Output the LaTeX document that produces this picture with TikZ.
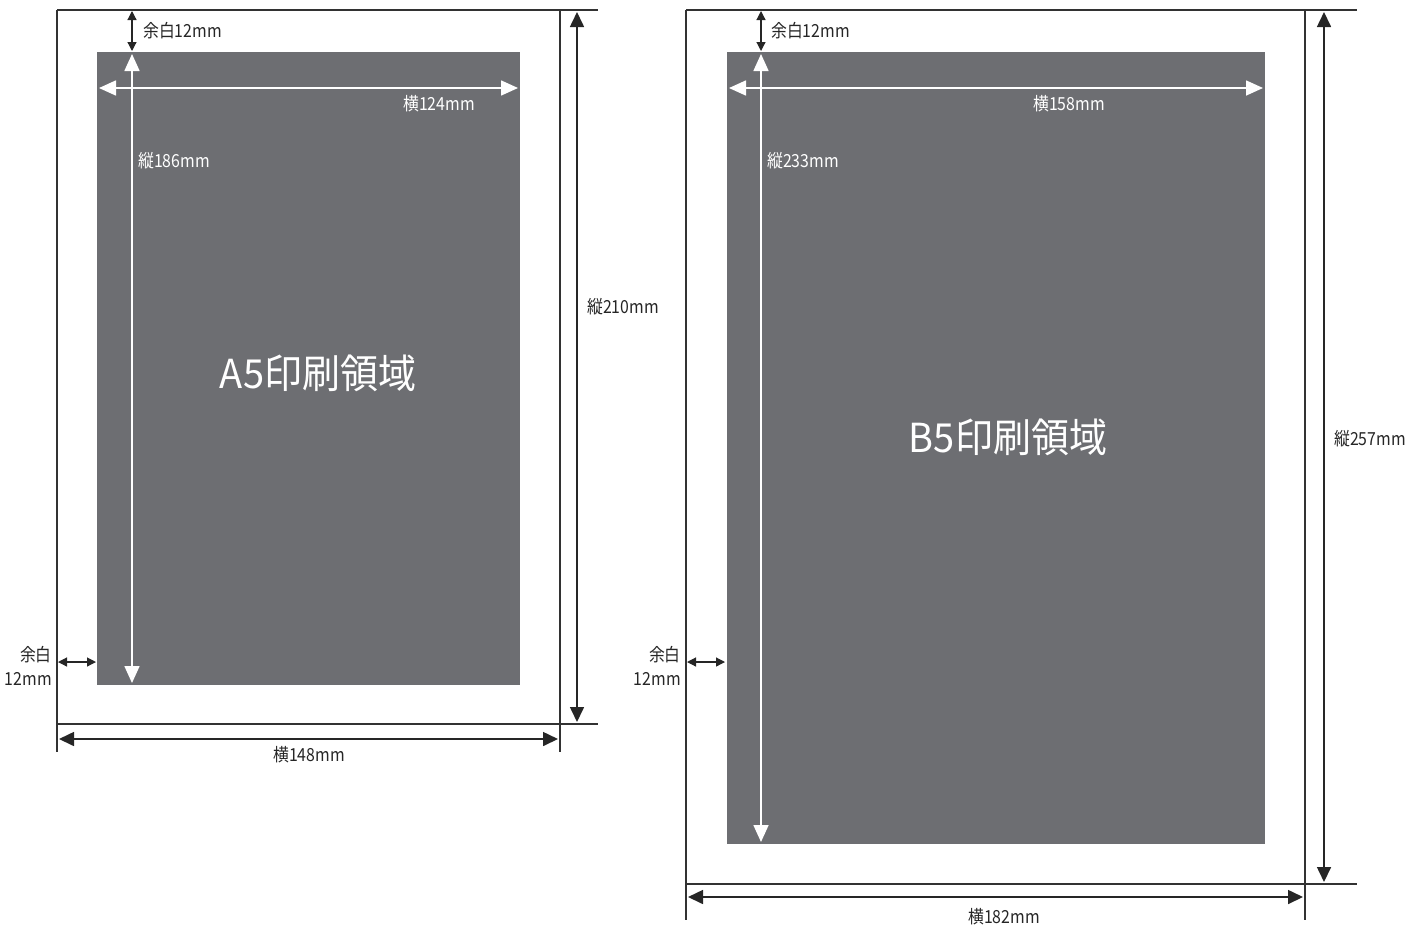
\documentclass[tikz,border=0pt]{standalone}
\usepackage{fontspec}
\setmainfont{Noto Sans CJK JP}
\newfontfamily\condjp[FakeStretch=0.88]{Noto Sans CJK JP}
\newfontfamily\condtitle[FakeStretch=0.95]{Noto Sans CJK JP}
\usetikzlibrary{arrows.meta}
\definecolor{areagray}{RGB}{109,110,114}
\definecolor{linegray}{RGB}{50,50,50}
\tikzset{
  pageline/.style={draw=linegray,line width=1.1pt},
  bigdim/.style={draw=black!85,line width=1.6pt,{Triangle[length=15pt,width=14pt]}-{Triangle[length=15pt,width=14pt]}},
  margdim/.style={draw=black!85,line width=1.2pt,{Triangle[length=9pt,width=9pt]}-{Triangle[length=9pt,width=9pt]}},
  whitedim/.style={draw=white,line width=1.6pt,{Triangle[length=17pt,width=15pt]}-{Triangle[length=17pt,width=15pt]}},
  area/.style={fill=areagray,draw=none},
  lbl/.style={font=\condjp\fontsize{18}{20}\selectfont,inner sep=0pt,text=black!85},
  wlbl/.style={font=\condjp\fontsize{18}{20}\selectfont,inner sep=0pt,text=white},
  title/.style={font=\condtitle\fontsize{40}{44}\selectfont,inner sep=0pt,text=white}
}
\begin{document}
\begin{tikzpicture}[x=1pt,y=-1pt]
\useasboundingbox (0,0) rectangle (1407,927);
% ---------- A5 ----------
\fill[area] (97,52) rectangle (520,685);
\draw[pageline] (57,10) -- (598,10);
\draw[pageline] (57,724) -- (598,724);
\draw[pageline] (57,10) -- (57,752);
\draw[pageline] (560,10) -- (560,752);
\coordinate (a5tt) at (132,11);
\coordinate (a5tb) at (132,51);
\draw[margdim] (a5tt) -- (a5tb);
\node[lbl,anchor=west] (a5tm) at (143,31) {余白12mm};
\coordinate (a5wt) at (132,54);
\coordinate (a5wb) at (132,683);
\draw[whitedim] (a5wt) -- (a5wb);
\coordinate (a5wl) at (99,88);
\coordinate (a5wr) at (518,88);
\draw[whitedim] (a5wl) -- (a5wr);
\node[wlbl,anchor=east] (a5w) at (475,104) {横124mm};
\node[wlbl,anchor=west] (a5h) at (138,161) {縦186mm};
\node[title] (a5title) at (318,373) {A5印刷領域};
\coordinate (a5vt) at (577,12);
\coordinate (a5vb) at (577,722);
\draw[bigdim] (a5vt) -- (a5vb);
\node[lbl,anchor=west] (a5vl) at (587,307) {縦210mm};
\coordinate (a5hl) at (59,739);
\coordinate (a5hr) at (558,739);
\draw[bigdim] (a5hl) -- (a5hr);
\node[lbl] (a5hlab) at (309,755) {横148mm};
\coordinate (a5ml) at (58,662);
\coordinate (a5mr) at (96,662);
\draw[margdim] (a5ml) -- (a5mr);
\node[lbl,anchor=east] (a5m1) at (52,655) {余白};
\node[lbl,anchor=east] (a5m2) at (52,679) {12mm};
% ---------- B5 ----------
\fill[area] (727,52) rectangle (1265,844);
\draw[pageline] (686,10) -- (1357,10);
\draw[pageline] (686,884) -- (1357,884);
\draw[pageline] (686,10) -- (686,920);
\draw[pageline] (1305,10) -- (1305,920);
\coordinate (b5tt) at (761,11);
\coordinate (b5tb) at (761,51);
\draw[margdim] (b5tt) -- (b5tb);
\node[lbl,anchor=west] (b5tm) at (771,31) {余白12mm};
\coordinate (b5wt) at (761,54);
\coordinate (b5wb) at (761,842);
\draw[whitedim] (b5wt) -- (b5wb);
\coordinate (b5wl) at (729,88);
\coordinate (b5wr) at (1263,88);
\draw[whitedim] (b5wl) -- (b5wr);
\node[wlbl,anchor=east] (b5w) at (1105,104) {横158mm};
\node[wlbl,anchor=west] (b5h) at (767,161) {縦233mm};
\node[title] (b5title) at (1008,437) {B5印刷領域};
\coordinate (b5vt) at (1324,12);
\coordinate (b5vb) at (1324,882);
\draw[bigdim] (b5vt) -- (b5vb);
\node[lbl,anchor=west] (b5vl) at (1334,439) {縦257mm};
\coordinate (b5hl) at (688,897);
\coordinate (b5hr) at (1303,897);
\draw[bigdim] (b5hl) -- (b5hr);
\node[lbl] (b5hlab) at (1004,917) {横182mm};
\coordinate (b5ml) at (687,662);
\coordinate (b5mr) at (725,662);
\draw[margdim] (b5ml) -- (b5mr);
\node[lbl,anchor=east] (b5m1) at (681,655) {余白};
\node[lbl,anchor=east] (b5m2) at (681,679) {12mm};
\end{tikzpicture}
\end{document}
